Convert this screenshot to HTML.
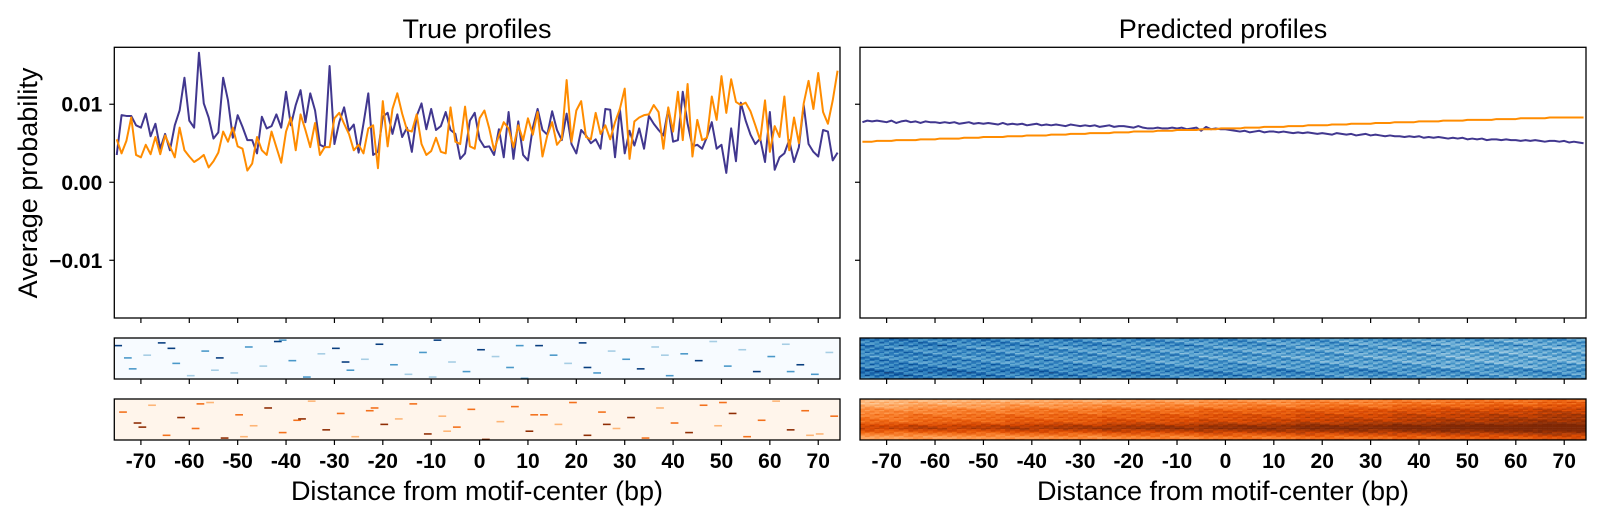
<!DOCTYPE html>
<html><head><meta charset="utf-8"><style>
html,body{margin:0;padding:0;background:#fff;}
svg{display:block;font-family:"Liberation Sans",sans-serif;}
</style></head><body>
<svg id="chart" width="1600" height="521" viewBox="0 0 1600 521" xmlns="http://www.w3.org/2000/svg">
<rect x="0" y="0" width="1600" height="521" fill="#fff"/>
<text x="477" y="38" font-size="27" text-anchor="middle">True profiles</text>
<text x="1223" y="38" font-size="27" text-anchor="middle">Predicted profiles</text>
<text transform="translate(37,183) rotate(-90)" font-size="27" text-anchor="middle">Average probability</text>
<text x="477" y="500" font-size="27" text-anchor="middle">Distance from motif-center (bp)</text>
<text x="1223" y="500" font-size="27" text-anchor="middle">Distance from motif-center (bp)</text>
<g id="layer"></g>
</svg>
<script>
const xTicks = [-70,-60,-50,-40,-30,-20,-10,0,10,20,30,40,50,60,70];
const yTicks = [0.01,0.0,-0.01];
const yTickLabels = ["0.01","0.00","\u22120.01"];
const trueBlue = [3.5,8.6,8.5,8.5,7.3,7.0,8.8,5.9,7.5,4.3, 6.2,4.1,7.3,9.2,13.4,7.9,7.0,16.6,10.1,8.3, 5.6,6.4,13.4,10.5,5.7,8.6,7.1,5.4,5.4,3.7, 8.4,6.9,7.2,8.7,7.0,11.6,7.3,9.9,11.8,7.7, 11.4,9.2,4.8,4.5,14.9,4.9,7.7,9.6,6.6,7.4, 3.8,7.5,11.4,3.5,3.9,8.4,8.9,6.2,8.7,5.8, 7.0,3.9,8.5,10.1,6.8,9.4,6.7,7.2,9.0,6.7, 6.2,3.0,3.7,7.9,8.9,5.5,4.5,4.6,3.5,6.8, 3.2,9.0,3.0,7.8,3.5,2.8,7.0,9.4,6.7,6.1, 9.1,6.7,5.4,8.8,4.9,3.7,6.7,6.0,5.0,5.5, 4.3,9.4,9.3,3.2,9.4,3.7,6.6,4.7,6.9,4.3, 8.5,7.5,6.7,6.0,9.4,5.2,5.4,11.6,7.5,4.6, 4.8,4.3,5.8,7.7,4.3,4.8,1.2,6.9,2.7,10.2, 7.9,6.1,4.9,5.6,2.6,9.0,1.6,3.2,3.7,5.4, 2.6,4.5,9.9,4.9,3.9,3.3,6.7,6.5,2.8,3.8];
const trueOrange = [5.5,3.7,5.3,8.3,3.5,3.2,4.8,3.6,5.8,3.6, 6.0,4.6,3.2,7.0,4.1,3.3,2.6,3.0,3.5,1.9, 2.7,3.8,6.5,5.2,7.0,4.6,4.3,1.5,2.4,5.8, 4.1,3.5,6.5,4.5,2.5,6.5,8.3,4.1,8.7,6.7, 4.5,7.6,3.5,4.5,4.5,8.2,8.9,7.5,6.2,4.1, 4.8,3.7,6.9,7.3,1.8,10.4,4.6,9.4,11.4,8.8, 6.7,6.5,8.7,4.9,3.5,4.0,5.7,3.9,3.7,9.6, 5.2,4.9,9.7,4.6,4.3,8.2,9.2,6.9,4.1,6.0, 7.7,6.9,4.5,7.3,5.4,8.2,6.1,9.0,3.3,6.0, 7.7,4.8,5.6,13.1,5.2,9.2,10.4,5.8,5.5,8.9, 6.2,7.3,5.5,7.7,9.4,12.0,3.0,7.8,8.3,8.6, 8.7,9.9,9.0,4.3,9.6,6.5,11.6,5.4,12.6,3.3, 8.0,5.4,5.7,11.0,8.0,13.6,8.9,13.2,10.3,9.9, 10.2,9.1,7.3,5.4,10.5,3.9,7.2,5.8,11.0,4.1, 8.3,5.0,10.1,13.0,9.4,14.0,9.0,7.5,10.5,14.3];
const predBlue = [7.7,7.9,7.8,7.9,7.8,7.7,7.9,7.6,7.8,7.9, 7.7,7.8,7.6,7.8,7.7, 7.7,7.6,7.7,7.6,7.7,7.5,7.6,7.7,7.5,7.6, 7.5,7.6,7.5,7.4,7.6, 7.4,7.5,7.4,7.5,7.3,7.4,7.5,7.3,7.4,7.3, 7.4,7.3,7.2,7.4,7.3, 7.2,7.3,7.2,7.3,7.1,7.2,7.3,7.1,7.2,7.2, 7.1,7.0,7.2,7.0,6.9, 6.9,7.0,6.9,6.9,7.0,6.9,7.0,6.8,6.9,7.0, 6.6,7.1,6.8,6.9,6.8, 6.8,6.7,6.6,6.5,6.6,6.4,6.5,6.6,6.4,6.5, 6.5,6.4,6.5,6.4,6.3, 6.4,6.3,6.4,6.3,6.2,6.3,6.2,6.1,6.3,6.2, 6.1,6.2,6.0,6.1,6.2, 6.0,6.1,6.0,5.9,6.0,5.9,5.9,5.8,5.9,5.8, 5.9,5.7,5.8,5.7,5.8, 5.7,5.6,5.7,5.6,5.7,5.5,5.6,5.5,5.6,5.4, 5.5,5.5,5.4,5.5,5.4, 5.4,5.3,5.4,5.3,5.4,5.3,5.2,5.3,5.3,5.2, 5.3,5.1,5.2,5.1,5.0];
const predOrange = [5.2,5.2,5.2,5.3,5.3,5.3,5.3,5.4,5.4,5.4, 5.4,5.4,5.5,5.5,5.5,5.5,5.6,5.6,5.6,5.6, 5.6,5.7,5.7,5.7,5.7,5.8,5.8,5.8,5.8,5.8, 5.9,5.9,5.9,5.9,6.0,6.0,6.0,6.0,6.0,6.1, 6.1,6.1,6.1,6.2,6.2,6.2,6.2,6.3,6.3,6.3, 6.3,6.3,6.4,6.4,6.4,6.4,6.5,6.5,6.5,6.5, 6.5,6.6,6.6,6.6,6.6,6.7,6.7,6.7,6.7,6.7, 6.8,6.8,6.8,6.8,6.9,6.9,6.9,6.9,6.9,7.0, 7.0,7.0,7.0,7.1,7.1,7.1,7.1,7.1,7.2,7.2, 7.2,7.2,7.3,7.3,7.3,7.3,7.3,7.4,7.4,7.4, 7.4,7.5,7.5,7.5,7.5,7.5,7.6,7.6,7.6,7.6, 7.7,7.7,7.7,7.7,7.7,7.8,7.8,7.8,7.8,7.8, 7.9,7.9,7.9,7.9,7.9,8.0,8.0,8.0,8.0,8.0, 8.0,8.1,8.1,8.1,8.1,8.1,8.2,8.2,8.2,8.2, 8.2,8.2,8.3,8.3,8.3,8.3,8.3,8.3,8.3,8.3];
const tbCols = [0,3,6,9,12,15,18,21,24,27,30,33,36,39,42,45,48,51,54,57,60,63,66,69,72,75,78,81,84,87,90,93,96,99,102,105,108,111,114,117,120,123,126,129,132,135,138,141,144,147,2,11,20,34,47,65,83,97,113,139];
const tbRows = [5,22,12,3,18,27,9,14,25,6,20,2,16,28,11,7,23,15,4,19,26,10,1,17,24,8,13,21,29,5,12,18,3,25,9,15,22,6,27,11,16,2,20,8,24,13,4,19,26,10,14,7,23,1,17,28,5,21,12,24];
const tbVals = [0.95,0.6,0.35,0.95,0.6,0.35,0.6,0.95,0.35,0.6,0.35,0.95,0.6,0.6,0.35,0.95,0.6,0.35,0.95,0.6,0.35,0.6,0.95,0.35,0.6,0.95,0.35,0.6,0.6,0.95,0.6,0.35,0.95,0.6,0.35,0.6,0.95,0.35,0.6,0.6,0.95,0.35,0.6,0.35,0.95,0.6,0.35,0.95,0.6,0.35,0.6,0.95,0.35,0.6,0.95,0.35,0.6,0.95,0.35,0.6];
const toCols = [1,4,7,10,13,16,19,22,25,28,31,34,37,40,43,46,49,52,55,58,61,64,67,70,73,76,79,82,85,88,91,94,97,100,103,106,109,112,115,118,121,124,127,130,133,136,139,142,145,148,5,17,26,38,53,68,86,101,125,143];
const toRows = [9,17,4,26,13,21,2,28,11,19,6,24,15,1,22,10,27,8,18,14,3,25,12,20,7,29,16,5,23,11,18,2,26,9,21,13,28,6,17,24,4,19,10,27,15,1,22,8,25,12,20,3,27,14,6,23,11,18,2,26];
const toVals = [0.6,0.95,0.35,0.6,0.95,0.6,0.35,0.95,0.6,0.35,0.95,0.6,0.6,0.35,0.95,0.6,0.35,0.6,0.95,0.35,0.6,0.95,0.35,0.6,0.6,0.95,0.35,0.6,0.95,0.6,0.35,0.6,0.95,0.6,0.35,0.95,0.6,0.35,0.6,0.95,0.6,0.35,0.95,0.6,0.6,0.35,0.95,0.6,0.35,0.6,0.95,0.6,0.35,0.95,0.6,0.35,0.6,0.95,0.6,0.35];
const pbRowLvl = [0.62,0.66,0.6,0.64,0.58,0.68,0.6,0.55,0.63,0.58,0.6,0.57,0.65,0.55,0.6,0.58,0.62,0.56,0.6,0.64,0.58,0.62,0.66,0.7,0.68,0.72,0.64,0.7,0.6,0.66];
const pbColShift = [0.08,0.07,0.05,0.04,0.03,0.02,0.01,0,-0.01,-0.02,-0.03,-0.04,-0.06,-0.06,-0.05];
const poRowLvl = [0.35,0.3,0.38,0.33,0.42,0.4,0.45,0.5,0.48,0.55,0.5,0.58,0.55,0.6,0.58,0.62,0.6,0.66,0.7,0.75,0.78,0.8,0.74,0.68,0.62,0.58,0.5,0.45,0.4,0.5];
const poColShift = [0,0.03,0.04,0.07,0.08,0.11,0.12,0.15,0.16,0.19,0.2,0.23,0.25,0.27,0.3];
const texture = [0,0.12,-0.09,0.05,-0.14,0.08,-0.03,0.15,-0.07,0.02,-0.12,0.09,-0.05,0.18,-0.1,0.04,-0.16];

const NS = "http://www.w3.org/2000/svg";
const layer = document.getElementById('layer');
const panels = [{x0:114.3,x1:840,name:'left'},{x0:860,x1:1586,name:'right'}];
const mainY0 = 47.3, mainY1 = 318;
const hb = {y0:338,y1:379}, ho = {y0:399,y1:440};
const XMIN=-75.5, XMAX=74.5, YMIN=-0.0174, YMAX=0.0173;
const NROWS=30;
function xs(p,v){return p.x0+(v-XMIN)/(XMAX-XMIN)*(p.x1-p.x0);}
function ys(v){return mainY1-(v-YMIN)/(YMAX-YMIN)*(mainY1-mainY0);}
function mk(tag,attrs,parent){const e=document.createElementNS(NS,tag);for(const k in attrs)e.setAttribute(k,attrs[k]);(parent||layer).appendChild(e);return e;}
const blues=["#f7fbff","#deebf7","#c6dbef","#9ecae1","#6baed6","#4292c6","#2171b5","#08519c","#08306b"];
const oranges=["#fff5eb","#fee6ce","#fdd0a2","#fdae6b","#fd8d3c","#f16913","#d94801","#a63603","#7f2704"];
function cmap(stops,t){t=Math.max(0,Math.min(1,t));const f=t*(stops.length-1);const i=Math.min(stops.length-2,Math.floor(f));const a=f-i;
 const h=s=>[1,3,5].map(k=>parseInt(s.substr(k,2),16));const c0=h(stops[i]),c1=h(stops[i+1]);
 return "rgb("+c0.map((c,j)=>Math.round(c+(c1[j]-c)*a)).join(",")+")";}

function heat(p,box,bg,cols,rows,vals,stops,name){
 const g=mk('g',{});
 
 
 mk('rect',{x:p.x0,y:box.y0,width:p.x1-p.x0,height:box.y1-box.y0,fill:bg},g);
 const cw=(p.x1-p.x0)/150, ch=(box.y1-box.y0)/NROWS;
 for(let k=0;k<cols.length;k++){
  const r=mk('rect',{x:p.x0+cols[k]*cw,y:box.y0+rows[k]*ch,width:cw*1.6,height:ch+0.2,fill:cmap(stops,vals[k])},g);
  
  
 }
 return g;
}
function denseHeat(p,box,rowLvl,colShift,stops,amp,name){
 const g=mk('g',{});
 
 
 const cw=(p.x1-p.x0)/150, ch=(box.y1-box.y0)/NROWS;
 for(let r=0;r<NROWS;r++)for(let c=0;c<150;c++){
  const v=rowLvl[r]+colShift[Math.floor(c/10)]+amp*texture[(r*7+c*5)%17];
  mk('rect',{x:p.x0+c*cw,y:box.y0+r*ch,width:cw+0.3,height:ch+0.2,fill:cmap(stops,v)},g);
 }
}
heat(panels[0],hb,"#f7fbff",tbCols,tbRows,tbVals,blues,'true-blue-heatmap');
heat(panels[0],ho,"#fff5eb",toCols,toRows,toVals,oranges,'true-orange-heatmap');
denseHeat(panels[1],hb,pbRowLvl,pbColShift,blues,1.0,'pred-blue-heatmap');
denseHeat(panels[1],ho,poRowLvl,poColShift,oranges,0.4,'pred-orange-heatmap');

function line(p,arr,color,name){
 let d='';for(let i=0;i<arr.length;i++){d+=(i?'L':'M')+xs(p,i-75).toFixed(2)+','+ys(arr[i]*0.001).toFixed(2);}
 const e=mk('path',{d:d,fill:'none',stroke:color,'stroke-width':2,'stroke-linejoin':'round'});
 
 
}
line(panels[0],trueBlue,'#41378f','true-blue-line');
line(panels[0],trueOrange,'#ff8c00','true-orange-line');
line(panels[1],predBlue,'#41378f','pred-blue-line');
line(panels[1],predOrange,'#ff8c00','pred-orange-line');

panels.forEach((p,pi)=>{
 [[mainY0,mainY1,'main'],[hb.y0,hb.y1,'blue-heat'],[ho.y0,ho.y1,'orange-heat']].forEach(b=>{
  const f=mk('rect',{x:p.x0,y:b[0],width:p.x1-p.x0,height:b[1]-b[0],fill:'none',stroke:'#000','stroke-width':1.3});
  
  
  xTicks.forEach(t=>{mk('line',{x1:xs(p,t),x2:xs(p,t),y1:b[1],y2:b[1]+5,stroke:'#000','stroke-width':1.2});});
 });
 xTicks.forEach(t=>{
  const tx=mk('text',{x:xs(p,t),y:468,'font-size':21,'font-weight':'bold','text-anchor':'middle'});
  tx.textContent=String(t);
  
  
 });
 yTicks.forEach((t,k)=>{
  mk('line',{x1:p.x0-5,x2:p.x0,y1:ys(t),y2:ys(t),stroke:'#000','stroke-width':1.2});
  if(pi===0){const tx=mk('text',{x:p.x0-12,y:ys(t)+7.5,'font-size':21,'font-weight':'bold','text-anchor':'end'});
   tx.textContent=yTickLabels[k];
   
   }
 });
});
</script>
</body></html>
